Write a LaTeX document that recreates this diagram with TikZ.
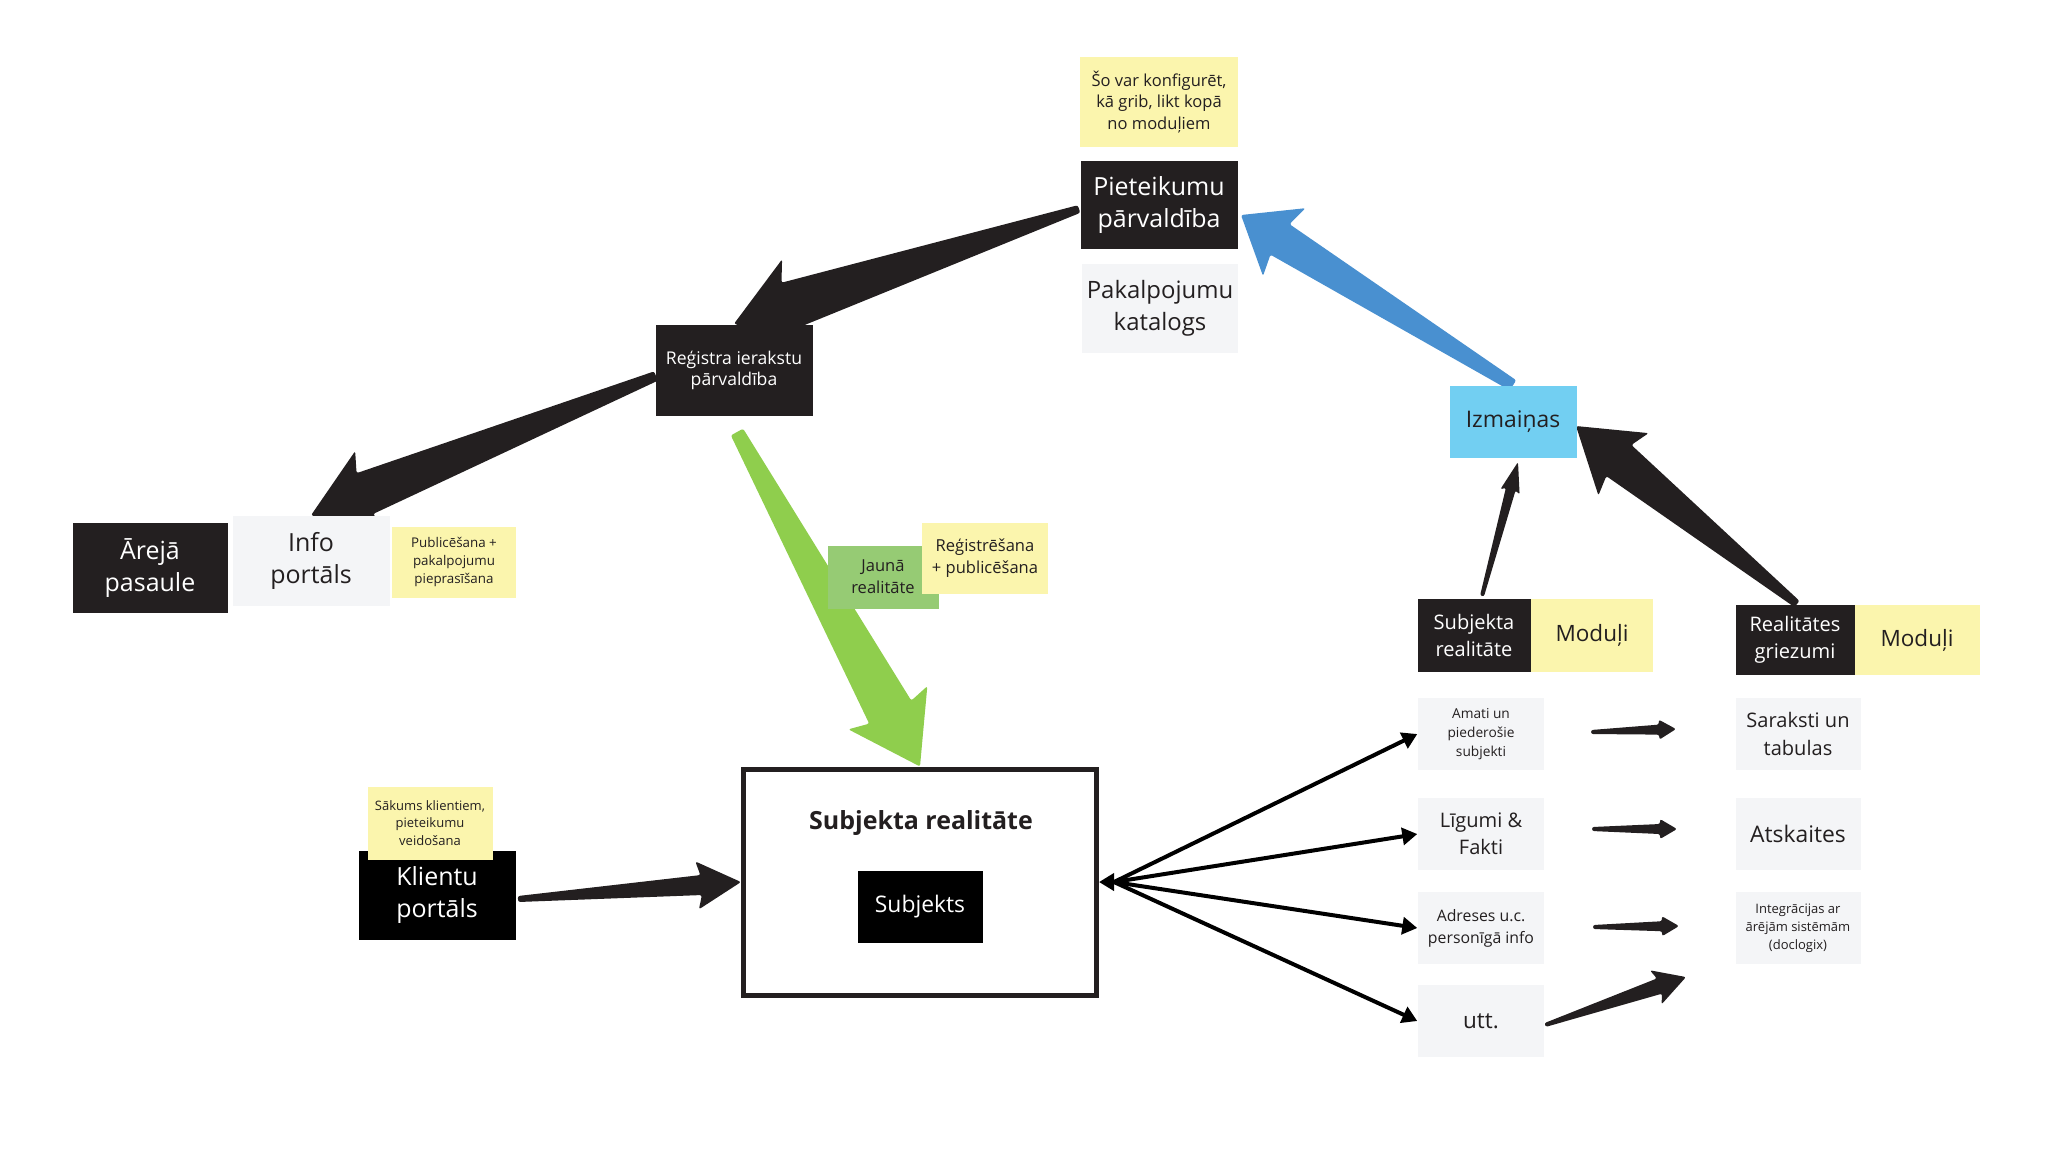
\documentclass[tikz,border=0pt]{standalone}
\usepackage{fontspec}
\setmainfont{Open Sans}
\usetikzlibrary{calc,arrows.meta}

\pgfdeclarelayer{bg}
\pgfsetlayers{bg,main}

\definecolor{blk}{HTML}{231F20}
\definecolor{sticky}{HTML}{FBF5AD}
\definecolor{card}{HTML}{F4F5F7}
\definecolor{newgreen}{HTML}{96CB74}
\definecolor{arrgreen}{HTML}{8FCE4D}
\definecolor{arrblue}{HTML}{4990D0}
\definecolor{skyblue}{HTML}{72CFF2}

% tapered arrow: [colour]{from}{tip}{half width at start}{half width at head}{barb}{head length}{sweep}, in px
\newcommand{\fatarrow}[8][blk]{%
  \coordinate (fa-n) at ($(#3)!#7*0.01cm!(#2)$);
  \coordinate (fa-b) at ($(#3)!#7*0.01cm+#8*0.01cm!(#2)$);
  \fill[#1, rounded corners=0.6pt]
    ($(#2)!#4*0.01cm!90:(#3)$) -- ($(fa-n)!#5*0.01cm!-90:(#2)$)
    -- ($(fa-b)!#6*0.01cm!-90:(#2)$) -- (#3)
    -- ($(fa-b)!#6*0.01cm!90:(#2)$) -- ($(fa-n)!#5*0.01cm!90:(#2)$)
    -- ($(#2)!#4*0.01cm!-90:(#3)$) -- cycle;
}

\tikzset{
  sized/.style 2 args={minimum width=#1*0.01cm, minimum height=#2*0.01cm, inner sep=0pt, align=center},
  darkcard/.style={fill=blk, text=white},
  notecard/.style={fill=sticky, text=blk},
  lightcard/.style={fill=card, text=blk},
  big/.style={font=\fontsize{7.1}{9.1}\selectfont},
  mid/.style={font=\fontsize{5.7}{7.7}\selectfont},
  small/.style={font=\fontsize{4.7}{6.2}\selectfont},
  tiny/.style={font=\fontsize{3.8}{5.2}\selectfont},
  spoke/.style={draw=black, line width=0.04cm, -{Triangle[length=0.15cm, width=0.17cm]}}
}

\begin{document}
\begin{tikzpicture}[x=0.01cm, y=-0.01cm]
  \useasboundingbox (0,0) rectangle (2048,1159);

  % top
  \node[notecard, sized={158}{90}, small] (konf) at (1159,102) {Šo var konfigurēt,\\kā grib, likt kopā\\no moduļiem};
  \node[darkcard, sized={157}{88}, big] (piet) at (1159,205) {Pieteikumu\\pārvaldība};
  \node[lightcard, sized={156}{89}, font=\fontsize{6.8}{9.1}\selectfont] (katalogs) at (1160,308) {Pakalpojumu\\katalogs};

  \node[darkcard, sized={157}{91}, font=\fontsize{5}{6}\selectfont] (reg) at (734,370) {Reģistra ierakstu\\pārvaldība};

  % left
  \node[darkcard, sized={155}{90}, big] (areja) at (150,568) {Ārejā\\pasaule};
  \node[lightcard, sized={157}{90}, big] (info) at (311,561) {Info\\portāls};
  \node[notecard, sized={124}{71}, tiny] (publ) at (454,562) {Publicēšana +\\pakalpojumu\\pieprasīšana};

  \node[fill=newgreen, text=blk, sized={111}{63}, small] (jauna) at (883,577) {Jaunā\\realitāte};
  \node[notecard, sized={126}{71}, small] (regpubl) at (985,558) {Reģistrēšana\\+ publicēšana};

  % centre
  \node[draw=blk, line width=0.05cm, fill=white, sized={353}{226}] (subj) at (920,882) {};
  \node[text=blk, font=\fontsize{7.1}{9}\selectfont\bfseries] (subjtitle) at (921,823) {Subjekta realitāte};
  \node[fill=black, text=white, sized={125}{72}, font=\fontsize{6.5}{8}\selectfont] (subjekts) at (920,907) {Subjekts};

  \node[fill=black, text=white, sized={157}{89}, big] (klienti) at (437,895) {Klientu\\portāls};
  \node[notecard, sized={125}{73}, font=\fontsize{3.7}{5}\selectfont] (sakums) at (430,823) {Sākums klientiem,\\pieteikumu\\veidošana};

  % right
  \node[fill=skyblue, text=blk, sized={127}{72}, font=\fontsize{6.5}{8}\selectfont] (izm) at (1513,422) {Izmaiņas};

  \node[notecard, sized={122}{73}, font=\fontsize{6.4}{8}\selectfont] (mod1) at (1592,635) {Moduļi};
  \node[darkcard, sized={113}{73}, mid] (subjreal) at (1474,635) {Subjekta\\realitāte};
  \node[notecard, sized={125}{70}, font=\fontsize{6.4}{8}\selectfont] (mod2) at (1917,640) {Moduļi};
  \node[darkcard, sized={119}{70}, mid] (griez) at (1795,640) {Realitātes\\griezumi};

  \node[lightcard, sized={126}{72}, font=\fontsize{3.9}{5.4}\selectfont] (amati) at (1481,734) {Amati un\\piederošie\\subjekti};
  \node[lightcard, sized={126}{72}, mid] (ligumi) at (1481,834) {Līgumi \&\\Fakti};
  \node[lightcard, sized={126}{72}, font=\fontsize{4.5}{6.2}\selectfont] (adreses) at (1481,928) {Adreses u.c.\\personīgā info};
  \node[lightcard, sized={126}{72}, font=\fontsize{6.4}{8}\selectfont] (utt) at (1481,1021) {utt.};

  \node[lightcard, sized={125}{72}, font=\fontsize{5.7}{8}\selectfont] (saraksti) at (1798,734) {Saraksti un\\tabulas};
  \node[lightcard, sized={125}{72}, font=\fontsize{6.5}{8}\selectfont] (atskaites) at (1798,834) {Atskaites};
  \node[lightcard, sized={125}{72}, font=\fontsize{3.7}{5.1}\selectfont] (integr) at (1798,928) {Integrācijas ar\\ārējām sistēmām\\(doclogix)};

  \begin{pgfonlayer}{bg}
    \coordinate (pietout) at (1079,209);
    \fatarrow{pietout}{reg.north}{4}{24}{46}{58}{8}
    \coordinate (regout) at (656,376);
    \fatarrow{regout}{info.north}{5}{22}{43}{58}{7}
    \coordinate (regdown) at (737,432);
    \fatarrow[arrgreen]{regdown}{subj.north}{7}{24}{45}{62}{5}
    \coordinate (pietin) at (1241,215);
    \fatarrow[arrblue]{izm.north}{pietin}{6}{18}{40}{46}{5}
    \coordinate (srout) at (1482,596);
    \coordinate (izmin) at (1518,462);
    \fatarrow{srout}{izmin}{2}{5}{10}{28}{3}
    \coordinate (griezout) at (1797,604);
    \coordinate (izmside) at (1576,426);
    \fatarrow{griezout}{izmside}{4}{20}{40}{55}{6}
    \coordinate (klout) at (518,899);
    \fatarrow{klout}{subj.west}{3}{10}{24}{40}{4}
  \end{pgfonlayer}

  % modules to outputs
  \coordinate (m1a) at (1591,732); \coordinate (m1b) at (1676,729);
  \fatarrow{m1a}{m1b}{2}{5}{10}{17}{0}
  \coordinate (m2a) at (1592,829); \coordinate (m2b) at (1677,829);
  \fatarrow{m2a}{m2b}{2}{5}{10}{17}{0}
  \coordinate (m3a) at (1593,927); \coordinate (m3b) at (1679,926);
  \fatarrow{m3a}{m3b}{2}{5}{10}{17}{0}
  \coordinate (m4a) at (1545,1025); \coordinate (m4b) at (1686,977);
  \fatarrow{m4a}{m4b}{2}{8}{18}{28}{4}

  % fan out of the subject box
  \coordinate (hub) at (1114,882);
  \draw[spoke] (hub) -- (subj.east);
  \foreach \m in {amati,ligumi,adreses,utt}
    \draw[spoke] (hub) -- (\m.west);
\end{tikzpicture}
\end{document}
